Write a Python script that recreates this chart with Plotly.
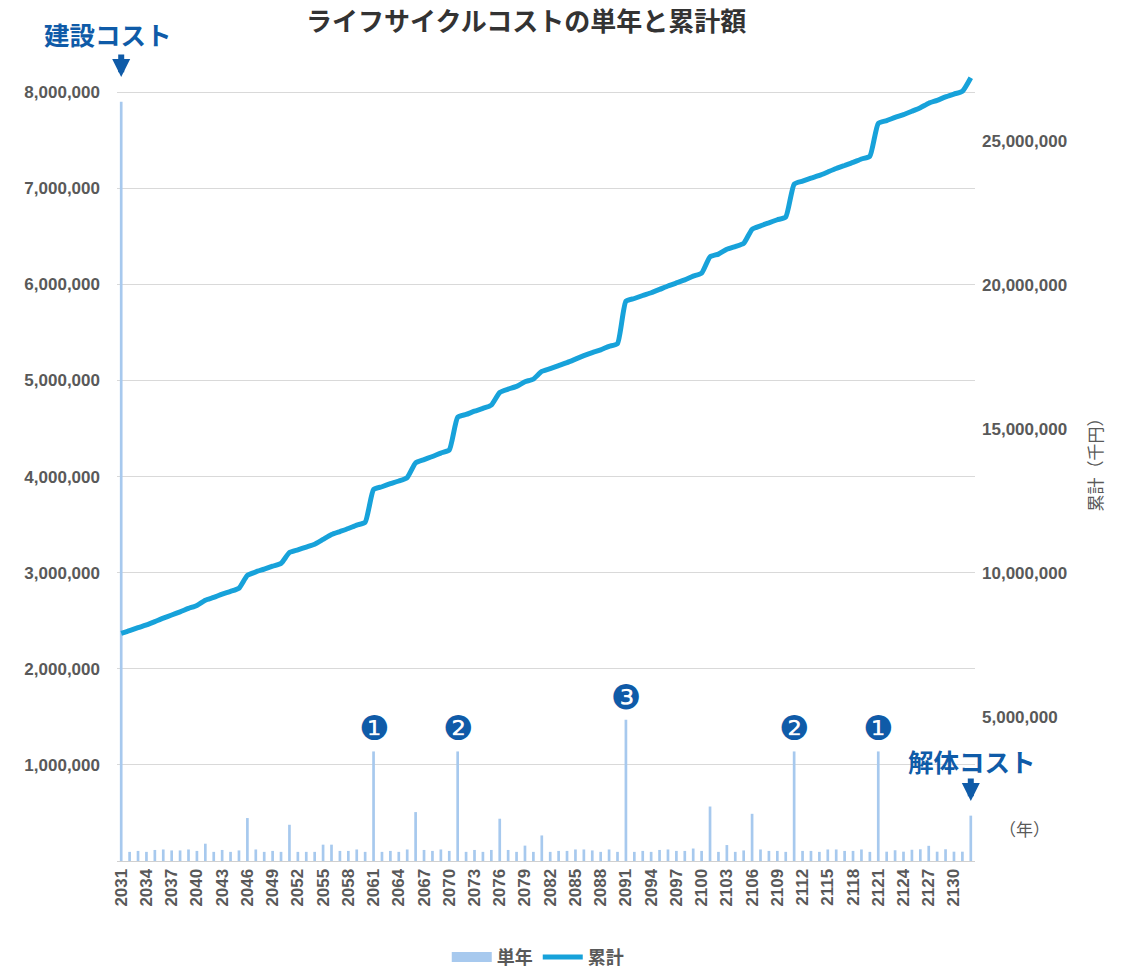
import numpy as np
import plotly.graph_objects as go

# 年次（2031〜2132）
years = list(range(2031, 2133))

# 単年の費用（千円）
single_year = [
    7900000,                                                        # 2031
    95000, 105000, 95000, 115000, 120000, 110000, 110000, 120000, 105000,   # 2032-2040
    180000, 95000, 115000, 95000, 110000, 447000, 120000, 95000, 105000, 95000,   # 2041-2050
    377000, 95000, 95000, 95000, 170000, 170000, 105000, 105000, 120000, 95000,   # 2051-2060
    1140000, 95000, 105000, 95000, 120000, 509000, 115000, 105000, 120000, 105000,  # 2061-2070
    1140000, 95000, 115000, 95000, 115000, 440000, 115000, 95000, 160000, 95000,   # 2071-2080
    266000, 95000, 105000, 105000, 120000, 120000, 110000, 95000, 120000, 95000,   # 2081-2090
    1470000, 95000, 105000, 95000, 115000, 120000, 105000, 105000, 130000, 105000,  # 2091-2100
    567000, 95000, 166000, 95000, 110000, 491000, 120000, 105000, 105000, 95000,   # 2101-2110
    1140000, 105000, 105000, 95000, 120000, 120000, 105000, 105000, 120000, 95000,  # 2111-2120
    1140000, 97000, 112000, 97000, 117000, 122000, 158000, 97000, 122000, 97000,   # 2121-2130
    97000, 472000,                                                  # 2131-2132
]

# 累計（千円）
cumulative = np.cumsum(single_year)

# 大規模修繕の番号（年, 表示記号）
repair_years = [2061, 2071, 2091, 2111, 2121]
repair_marks = ["❶", "❷", "❸", "❷", "❶"]

# 軸目盛
left_ticks = [1000000, 2000000, 3000000, 4000000, 5000000, 6000000, 7000000, 8000000]
right_ticks = [5000000, 10000000, 15000000, 20000000, 25000000]
x_ticks = list(range(2031, 2131, 3))

BAR_COLOR = "#a7c9ee"
LINE_COLOR = "#17a2da"
BLUE_TEXT = "#0f5ba8"
GRAY = "#595959"
JP = "Noto Sans CJK JP"
NUM = "Liberation Sans"

fig = go.Figure()

fig.add_trace(go.Bar(
    x=years, y=single_year, name="単年",
    marker=dict(color=BAR_COLOR, line=dict(width=0)),
    yaxis="y", showlegend=False,
))

# 凡例用の横長スウォッチ（単年）
fig.add_trace(go.Scatter(
    x=[None], y=[None], name="単年", mode="lines",
    line=dict(color=BAR_COLOR, width=11), yaxis="y",
))

fig.add_trace(go.Scatter(
    x=years, y=cumulative, name="累計", mode="lines",
    line=dict(color=LINE_COLOR, width=5, shape="spline", smoothing=0.5),
    yaxis="y2",
))

annotations = []
for yr, mk in zip(repair_years, repair_marks):
    annotations.append(dict(
        x=yr, y=single_year[years.index(yr)], xref="x", yref="y",
        text=mk, showarrow=False, yanchor="bottom", yshift=1,
        font=dict(family="DejaVu Sans", size=34, color=BLUE_TEXT),
    ))

# 建設コスト / 解体コスト の見出しと矢印
annotations += [
    dict(x=-0.0105, y=1.0325, xref="paper", yref="paper",
         text="<b>建設コスト</b>", showarrow=False, xanchor="center", yanchor="middle",
         font=dict(family=JP, size=25.5, color=BLUE_TEXT)),
    dict(x=years[0], y=0.9788, xref="x", yref="paper", text="",
         showarrow=True, arrowhead=2, arrowsize=0.6, arrowwidth=6,
         arrowcolor=BLUE_TEXT, ax=0, ay=-24, standoff=0),
    dict(x=0.9965, y=0.126, xref="paper", yref="paper",
         text="<b>解体コスト</b>", showarrow=False, xanchor="center", yanchor="middle",
         font=dict(family=JP, size=25.5, color=BLUE_TEXT)),
    dict(x=years[-1], y=0.0749, xref="x", yref="paper", text="",
         showarrow=True, arrowhead=2, arrowsize=0.6, arrowwidth=6,
         arrowcolor=BLUE_TEXT, ax=0, ay=-24, standoff=0),
    dict(x=1.058, y=0.041, xref="paper", yref="paper",
         text="（年）", showarrow=False, xanchor="center", yanchor="middle",
         font=dict(family=JP, size=17, color=GRAY)),
]

tick_font = dict(family=NUM, size=17, color=GRAY, weight="bold")

fig.update_layout(
    width=1125, height=968,
    margin=dict(l=117, r=150, t=60, b=107),
    paper_bgcolor="white", plot_bgcolor="white",
    title=dict(text="<b>ライフサイクルコストの単年と累計額</b>",
               x=0.4676, xref="container", xanchor="center",
               y=0.977, yref="container", yanchor="middle",
               font=dict(family=JP, size=26, color="#333333")),
    bargap=0.68,
    showlegend=True,
    legend=dict(orientation="h", x=0.478, xref="container", xanchor="center",
                y=0.011, yref="container", yanchor="middle",
                font=dict(family=JP, size=18, color=GRAY, weight="bold"),
                itemwidth=40),
    xaxis=dict(
        range=[2030.5, 2132.5], tickmode="array", tickvals=x_ticks,
        ticktext=[str(v) for v in x_ticks], tickangle=-90,
        tickfont=tick_font,
        showgrid=False, showline=True, linecolor="#d0d0d0", linewidth=1,
        ticks="", zeroline=False,
    ),
    yaxis=dict(
        range=[0, 8335000], tickmode="array", tickvals=left_ticks,
        ticktext=[f"{v:,}" for v in left_ticks],
        tickfont=tick_font,
        showgrid=True, gridcolor="#d9d9d9", gridwidth=1, zeroline=False,
        ticks="", ticklabelstandoff=16,
    ),
    yaxis2=dict(
        range=[0, 27810000], overlaying="y", side="right",
        tickmode="array", tickvals=right_ticks,
        ticktext=[f"{v:,}" for v in right_ticks],
        tickfont=tick_font,
        showgrid=False, zeroline=False, ticks="", ticklabelstandoff=6,
        title=dict(text="累計（千円）", standoff=24,
                   font=dict(family=JP, size=17, color=GRAY)),
    ),
    annotations=annotations,
)

fig.write_html("out.html")
